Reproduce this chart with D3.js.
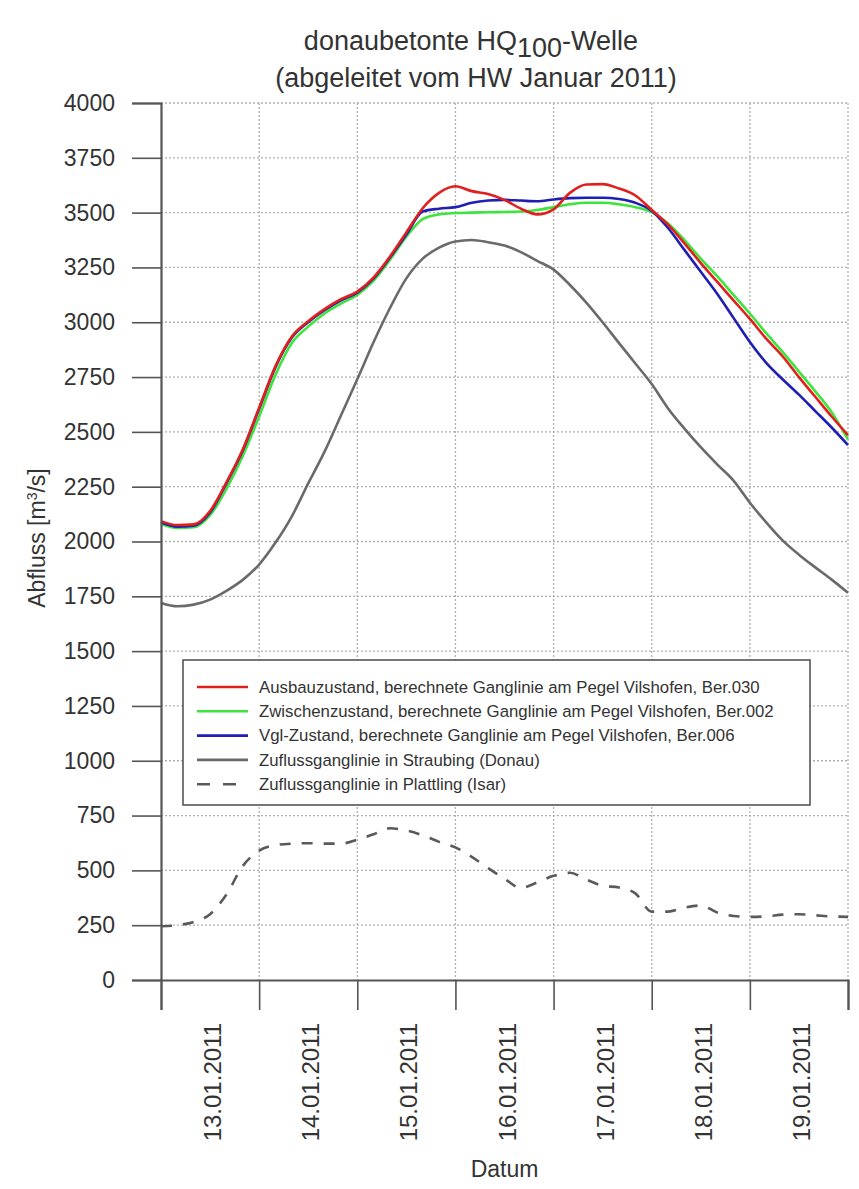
<!DOCTYPE html>
<html>
<head>
<meta charset="utf-8">
<script src="https://cdn.jsdelivr.net/npm/d3@7/dist/d3.min.js"></script>
<style>
  html, body { margin: 0; padding: 0; background: #fff; }
  svg { display: block; }
  text { font-family: "Liberation Sans", Arial, sans-serif; fill: #333; }
</style>
</head>
<body>
<svg id="chart" width="859" height="1189"></svg>
<script>
// ---- data (hours since 13.01.2011 00:00) ----
const hours = [0,4,8,12,16,20,24,28,32,36,40,44,48,52,56,60,64,68,72,76,80,84,88,92,96,100,104,108,112,116,120,124,128,132,136,140,144,148,152,156,160,164,168];

const ausbau = [2093,2075,2078,2139,2270,2420,2610,2800,2935,3005,3060,3105,3140,3205,3300,3410,3520,3590,3620,3598,3585,3558,3518,3492,3515,3590,3628,3630,3610,3578,3512,3445,3360,3270,3185,3100,3015,2925,2845,2750,2660,2570,2485];

const zwischen = [2080,2062,2065,2120,2240,2390,2570,2760,2905,2980,3040,3085,3125,3190,3285,3390,3470,3492,3498,3500,3502,3503,3505,3512,3525,3538,3545,3545,3538,3525,3502,3450,3375,3290,3210,3125,3040,2950,2865,2775,2685,2590,2465];

const vgl = [2088,2068,2072,2132,2265,2415,2605,2795,2930,3000,3055,3100,3135,3200,3295,3400,3505,3518,3525,3545,3555,3558,3555,3552,3560,3566,3568,3568,3562,3545,3508,3430,3330,3230,3130,3020,2910,2815,2740,2670,2595,2520,2440];

const straubing = [1720,1705,1712,1735,1775,1825,1895,1995,2115,2265,2410,2575,2740,2910,3065,3200,3290,3340,3368,3375,3365,3350,3320,3280,3240,3170,3090,3000,2905,2812,2718,2607,2515,2430,2352,2278,2177,2087,2005,1940,1882,1826,1766];

const plattling = [245,250,265,300,390,520,590,615,622,624,622,622,640,665,692,682,660,630,605,562,510,462,420,445,475,489,458,430,422,395,312,312,330,340,308,292,288,290,298,300,295,290,288];

const yTicks = [0,250,500,750,1000,1250,1500,1750,2000,2250,2500,2750,3000,3250,3500,3750,4000];
const dayLabels = ["13.01.2011","14.01.2011","15.01.2011","16.01.2011","17.01.2011","18.01.2011","19.01.2011"];

const seriesNames = [
  "Ausbauzustand, berechnete Ganglinie am Pegel Vilshofen, Ber.030",
  "Zwischenzustand, berechnete Ganglinie am Pegel Vilshofen, Ber.002",
  "Vgl-Zustand, berechnete Ganglinie am Pegel Vilshofen, Ber.006",
  "Zuflussganglinie in Straubing (Donau)",
  "Zuflussganglinie in Plattling (Isar)"
];
const seriesValues = [ausbau, zwischen, vgl, straubing, plattling];
const seriesColors = ["#e0201c", "#3ee43e", "#1f1fb4", "#6a6a6a", "#5a5a5a"];
const seriesDash = [null, null, null, null, "11,11"];

// ---- layout ----
const svg = d3.select("#chart");
const pLeft = 161, pRight = 848, pTop = 103, pBottom = 980;
const t0 = new Date(2011, 0, 13, 0, 0);
const t1 = new Date(2011, 0, 20, 0, 0);
const x = d3.scaleTime().domain([t0, t1]).range([pLeft, pRight]);
const y = d3.scaleLinear().domain([0, 4000]).range([pBottom, pTop]);
const toDate = h => new Date(t0.getTime() + h * 3600e3);
const dayTicks = d3.range(0, 8).map(d => toDate(d * 24));

// grid
const grid = svg.append("g");
grid.selectAll("line.h").data(yTicks.filter(v => v > 0)).join("line")
  .attr("x1", pLeft).attr("x2", pRight)
  .attr("y1", d => y(d)).attr("y2", d => y(d))
  .attr("stroke", "#b0b0b0").attr("stroke-width", 1.3).attr("stroke-dasharray", "2,2");
grid.selectAll("line.v").data(dayTicks.slice(1)).join("line")
  .attr("x1", d => x(d)).attr("x2", d => x(d))
  .attr("y1", pTop).attr("y2", pBottom)
  .attr("stroke", "#b0b0b0").attr("stroke-width", 1.3).attr("stroke-dasharray", "2,2");

// lines
const line = vals => d3.line()
  .x((d, i) => x(toDate(hours[i])))
  .y(d => y(d))
  .curve(d3.curveMonotoneX)(vals);

const drawOrder = [3, 4, 1, 2, 0];
drawOrder.forEach(i => {
  svg.append("path")
    .attr("d", line(seriesValues[i]))
    .attr("fill", "none")
    .attr("stroke", seriesColors[i])
    .attr("stroke-width", 2.6)
    .attr("stroke-dasharray", seriesDash[i])
    .attr("stroke-linejoin", "round");
});

// axes
const yAxis = d3.axisLeft(y).tickValues(yTicks).tickSize(29).tickPadding(17).tickFormat(d3.format("d"));
const gy = svg.append("g").attr("transform", `translate(${pLeft},0)`).call(yAxis);
gy.select(".domain").attr("stroke", "#555").attr("stroke-width", 2.2);
gy.selectAll(".tick line").attr("stroke", "#555").attr("stroke-width", 1.6);
gy.selectAll(".tick text").style("font-size", "23px").attr("fill", "#333")
  .style("font-family", "'Liberation Sans', Arial, sans-serif");

const xAxis = d3.axisBottom(x).tickValues(dayTicks).tickSize(30).tickFormat("");
const gx = svg.append("g").attr("transform", `translate(0,${pBottom})`).call(xAxis);
gx.select(".domain").attr("stroke", "#555").attr("stroke-width", 2.2);
gx.selectAll(".tick line").attr("stroke", "#555").attr("stroke-width", 1.6);

// day labels centred at midday, rotated
svg.append("g").selectAll("text").data(dayLabels).join("text")
  .attr("transform", (d, i) => `translate(${x(toDate(i * 24 + 12)) + 11},1023) rotate(-90)`)
  .attr("text-anchor", "end")
  .style("font-size", "24px")
  .text(d => d);

// axis titles
svg.append("text")
  .attr("transform", `translate(45,538) rotate(-90)`)
  .attr("text-anchor", "middle")
  .style("font-size", "23px")
  .html('Abfluss [m<tspan dy="-8" font-size="14px">3</tspan><tspan dy="8">/s]</tspan>');

svg.append("text")
  .attr("x", x(toDate(84))).attr("y", 1177)
  .attr("text-anchor", "middle")
  .style("font-size", "23px")
  .text("Datum");

// title
const title = svg.append("text").attr("x", 471).attr("y", 50).attr("text-anchor", "middle").style("font-size", "27px");
title.append("tspan").text("donaubetonte HQ");
title.append("tspan").attr("dy", 7).text("100");
title.append("tspan").attr("dy", -7).text("-Welle");
svg.append("text").attr("x", 476).attr("y", 87).attr("text-anchor", "middle").style("font-size", "27px")
  .text("(abgeleitet vom HW Januar 2011)");

// legend
const lg = svg.append("g");
lg.append("rect").attr("x", 183).attr("y", 660).attr("width", 627).attr("height", 145)
  .attr("fill", "#fff").attr("stroke", "#555").attr("stroke-width", 1.6);
seriesNames.forEach((name, i) => {
  const yy = 692.7 + i * 24.3;
  lg.append("line").attr("x1", 197).attr("x2", 248).attr("y1", yy - 5.7).attr("y2", yy - 5.7)
    .attr("stroke", seriesColors[i]).attr("stroke-width", 2.6)
    .attr("stroke-dasharray", i === 4 ? "13,13" : null);
  lg.append("text").attr("x", 259).attr("y", yy).style("font-size", "16.8px").text(name);
});
</script>
</body>
</html>
